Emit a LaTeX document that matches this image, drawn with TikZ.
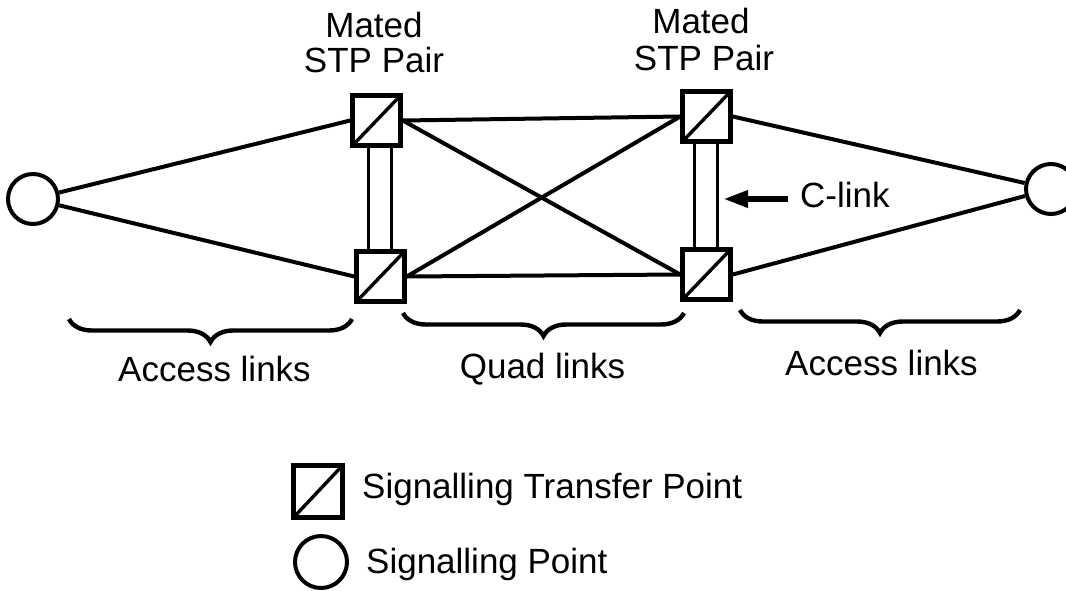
\documentclass[tikz,border=0pt]{standalone}
\usepackage{fontspec}
\setmainfont{Liberation Sans}
\usetikzlibrary{arrows.meta,decorations.pathreplacing}
\tikzset{
  stpbox/.style={draw, rectangle, line width=4.6pt, inner sep=0pt,
    minimum width=48pt, minimum height=50pt,
    path picture={\draw[line width=3.4pt] (path picture bounding box.south west) -- (path picture bounding box.north east);}},
  spnode/.style={draw, circle, line width=4pt, inner sep=0pt, minimum size=50pt},
  link/.style={line width=4pt},
  clinkline/.style={line width=3pt},
  brc/.style={line width=4.4pt, decorate, decoration={brace, mirror, amplitude=23pt}},
  lbl/.style={inner sep=0pt, font=\fontsize{35}{41}\selectfont},
  arrowthick/.style={line width=6.5pt, -{Triangle[length=25pt,width=16pt]}}
}
\begin{document}
\begin{tikzpicture}[x=1pt,y=-1pt]
\useasboundingbox (0,0) rectangle (1066,590);
% nodes
\node[spnode] (lsp) at (33,199) {};
\node[spnode] (rsp) at (1051,189) {};
\node[stpbox] (tl) at (376.5,120.5) {};
\node[stpbox] (bl) at (380.5,276.5) {};
\node[stpbox] (tr) at (706.5,116.5) {};
\node[stpbox] (br) at (706.5,274.5) {};
% labels
\node[lbl, anchor=base] (m1a) at (374,37) {Mated};
\node[lbl, anchor=base] (m1b) at (374,72) {STP Pair};
\node[lbl, anchor=base] (m2a) at (701,33) {Mated};
\node[lbl, anchor=base] (m2b) at (704,70) {STP Pair};
\node[lbl, anchor=base west] (clink) at (800,207) {C-link};
\node[lbl, anchor=base] (acc1) at (214.5,381) {Access links};
\node[lbl, anchor=base] (quad) at (542.5,378) {Quad links};
\node[lbl, anchor=base] (acc2) at (881.5,375) {Access links};
% access links
\draw[link] (lsp) -- (tl.west);
\draw[link] (lsp) -- (bl.west);
\draw[link] (tr.east) -- (rsp);
\draw[link] (br.east) -- (rsp);
% quad links
\draw[link] (tl.east) -- (tr.west);
\draw[link] (bl.east) -- (br.west);
\draw[link] (tl.east) -- (br.west);
\draw[link] (bl.east) -- (tr.west);
% C-links
\coordinate (c1) at (368,0);
\coordinate (c2) at (391,0);
\coordinate (c3) at (694,0);
\coordinate (c4) at (717,0);
\draw[clinkline] (tl.south -| c1) -- (bl.north -| c1);
\draw[clinkline] (tl.south -| c2) -- (bl.north -| c2);
\draw[clinkline] (tr.south -| c3) -- (br.north -| c3);
\draw[clinkline] (tr.south -| c4) -- (br.north -| c4);
\coordinate (cstart) at (788,199);
\coordinate (ctip) at (723,199);
\draw[arrowthick] (cstart) -- (ctip);
% braces
\draw[brc] (69,319) -- (352,319);
\draw[brc] (403,313) -- (684,313);
\draw[brc] (740,310) -- (1020,310);
% legend
\node[stpbox, minimum width=49pt, minimum height=52pt] (legstp) at (318,491.5) {};
\node[spnode, minimum size=52pt] (legsp) at (321,562) {};
\node[lbl, anchor=base west] (legt1) at (362,498) {Signalling Transfer Point};
\node[lbl, anchor=base west] (legt2) at (366,573) {Signalling Point};
\end{tikzpicture}
\end{document}
